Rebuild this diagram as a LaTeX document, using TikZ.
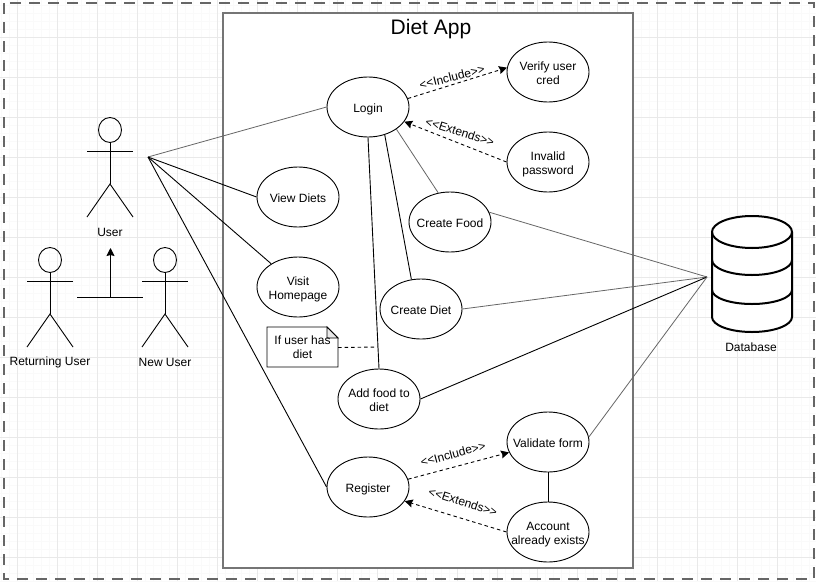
\documentclass[tikz,border=0pt]{standalone}
\usepackage{fontspec}
\setmainfont{Liberation Sans}
\usetikzlibrary{shapes.geometric,arrows.meta}
\definecolor{gridmajor}{HTML}{E9E9E9}
\definecolor{gridminor}{HTML}{FAFAFA}
\definecolor{framegray}{HTML}{666666}
\tikzset{
	usecase/.style={draw,ellipse,minimum width=82pt,minimum height=60pt,inner sep=0pt,font=\fontsize{12}{14}\selectfont,line width=0.9pt},
	caption/.style={align=center,inner sep=1pt,font=\fontsize{12}{14}\selectfont},
	stereo/.style={inner sep=0pt,font=\fontsize{12}{14}\selectfont},
	assoc/.style={line width=0.9pt},
	faint/.style={line width=0.8pt,draw=framegray},
	depend/.style={line width=0.9pt,dash pattern=on 3.5pt off 3pt,-{Stealth[length=8pt,width=8pt,inset=1pt]}},
}
\newcommand{\uctext}[1]{\raisebox{-6pt}[0pt][0pt]{\makebox[0pt][c]{\begin{tabular}{@{}c@{}}#1\end{tabular}}}}
\newcommand{\stickman}[3]{
	\draw[line width=0.9pt] (#1,#2) ellipse (11.5 and 12.5);
	\draw[line width=0.9pt] (#1,#2+12.5) -- (#1,#2+54);
	\draw[line width=0.9pt] (#1-23,#2+21) -- (#1+23,#2+21);
	\draw[line width=0.9pt] (#1-23,#2+87) -- (#1,#2+54) -- (#1+23,#2+87);
	\node[caption] (#3) at (#1,#2+102) {\csname label#3\endcsname};
}
\newcommand{\labeluser}{User}
\newcommand{\labelreturning}{Returning User}
\newcommand{\labelnewuser}{New User}

\begin{document}
\begin{tikzpicture}[x=1pt,y=-1pt]
	\useasboundingbox (0,0) rectangle (816,581);

	% grid paper
	\foreach \gx in {1,9,...,809} \draw[gridminor,line width=0.6pt] (\gx,0) -- (\gx,581);
	\foreach \gy in {5,13,...,581} \draw[gridminor,line width=0.6pt] (0,\gy) -- (816,\gy);
	\foreach \gx in {17,57,...,809} \draw[gridmajor,line width=0.8pt] (\gx,0) -- (\gx,581);
	\foreach \gy in {37,77,...,581} \draw[gridmajor,line width=0.8pt] (0,\gy) -- (816,\gy);

	% frames
	\draw[framegray,line width=2pt,dash pattern=on 11pt off 8pt] (4,3) rectangle (814,579);
	\draw[draw=framegray!90,fill=white,line width=1.4pt] (223,13) rectangle (633,568);
	\node[stereo,font=\fontsize{21}{24}\selectfont] (title) at (431,29) {Diet App};

	% actors
	\stickman{110}{130}{user}
	\stickman{50}{260}{returning}
	\stickman{165}{260}{newuser}

	% use cases
	\node[usecase] (login) at (368,107) {\uctext{Login}};
	\node[usecase] (verify) at (548,72) {\uctext{Verify user\\cred}};
	\node[usecase] (invalid) at (548,162) {\uctext{Invalid\\password}};
	\node[usecase] (viewdiets) at (298,197) {\uctext{View Diets}};
	\node[usecase] (homepage) at (298,287) {\uctext{Visit\\Homepage}};
	\node[usecase] (createfood) at (450,222) {\uctext{Create Food}};
	\node[usecase] (creatediet) at (421,309) {\uctext{Create Diet}};
	\node[usecase] (addfood) at (379,399) {\uctext{Add food to\\diet}};
	\node[usecase] (register) at (368,487) {\uctext{Register}};
	\node[usecase] (validate) at (548,442) {\uctext{Validate form}};
	\node[usecase] (exists) at (548,532) {\uctext{Account\\already exists}};

	% note
	\draw[line width=0.9pt,fill=white] (267,327) -- (327,327) -- (338,338) -- (338,367) -- (267,367) -- cycle;
	\draw[line width=0.9pt,fill=gridmajor] (327,327) -- (327,338) -- (338,338) -- cycle;
	\node[caption,minimum width=71pt,minimum height=40pt,inner sep=0pt] (note) at (302.5,347.5) {If user has\\diet};

	% free ends
	\coordinate (userport) at (148,157);
	\coordinate (dbport) at (707,277);
	\coordinate (notejoin) at (378,347);
	\coordinate (genleft) at (77,297);
	\coordinate (genright) at (143,297);
	\coordinate (genmid) at (110.5,297);
	\coordinate (gentip) at (110.5,248);

	% user associations
	\draw[faint] (userport) -- (login.west);
	\draw[assoc] (userport) -- (viewdiets.west);
	\draw[assoc] (userport) -- (homepage);
	\draw[assoc] (userport) -- (register.west);

	% generalisation
	\draw[assoc] (genleft) -- (genright);
	\draw[assoc,-{Stealth[length=8pt,width=8pt,inset=1pt]}] (genmid) -- (gentip);

	% login
	\draw[assoc] (login.south) -- (addfood.north);
	\draw[assoc] (login.301) -- (creatediet.108);
	\draw[faint] (login.322) -- (createfood.112);
	\draw[depend] (login.12) -- (verify.174);
	\draw[depend] (invalid.west) -- (login.338);
	\node[stereo,rotate=14] (includeone) at (452,77) {<{}<Include>{}>};
	\node[stereo,rotate=-18] (extendsone) at (460,132) {<{}<Extends>{}>};

	% register
	\draw[depend] (register.11) -- (validate.195);
	\draw[depend] (exists.west) -- (register.339);
	\draw[assoc] (validate.south) -- (exists.north);
	\node[stereo,rotate=15] (includetwo) at (453,454) {<{}<Include>{}>};
	\node[stereo,rotate=-18] (extendstwo) at (463,502) {<{}<Extends>{}>};

	% note link
	\draw[line width=0.9pt,dash pattern=on 3.5pt off 3pt] (note.east) -- (notejoin);

	% database
	\draw[line width=2pt,fill=white] (712,232) arc (180:360:40 and 16) -- (792,317) arc (0:180:40 and 15) -- cycle;
	\draw[line width=2pt] (712,232) arc (180:0:40 and 16);
	\draw[line width=2pt] (712,260) arc (180:0:40 and 15);
	\draw[line width=2pt] (712,290) arc (180:0:40 and 14);
	\node[caption] (database) at (751,347) {Database};

	% database links
	\draw[faint] (createfood.14) -- (dbport);
	\draw[faint] (creatediet.east) -- (dbport);
	\draw[assoc] (addfood.east) -- (dbport);
	\draw[faint] (validate.7) -- (dbport);
\end{tikzpicture}
\end{document}
